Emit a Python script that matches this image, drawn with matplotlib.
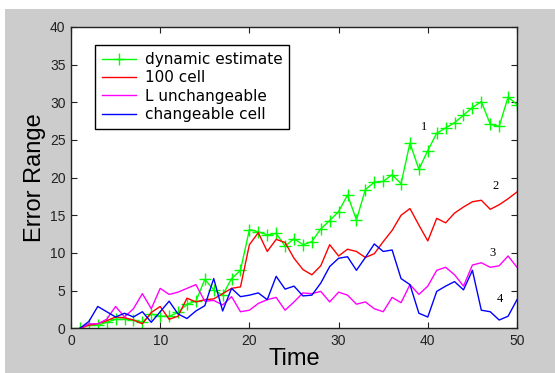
import numpy as np
import matplotlib
matplotlib.use('Agg')
import matplotlib.pyplot as plt
from matplotlib.patches import Rectangle

# time steps
time = np.arange(1, 51)

# error range for each method
dynamic = [0, 0.5, 0.4, 0.8, 1.2, 1.2, 1.1, 0.8, 1.9, 1.6,
           1.6, 2.1, 3.2, 3.6, 6.5, 5.1, 4.4, 6.6, 7.7, 13.1,
           12.8, 12.4, 12.6, 10.9, 11.9, 11.1, 11.5, 13.2, 14.3, 15.5,
           17.7, 14.4, 18.4, 19.4, 19.5, 20.4, 19.2, 24.6, 21.1, 23.6,
           25.9, 26.6, 27.3, 28.3, 29.3, 30.1, 27.1, 26.8, 30.7, 29.7]
cell100 = [0, 0.4, 0.6, 1.0, 1.5, 1.4, 1.1, 0.6, 2.1, 2.9,
           1.2, 1.6, 4.0, 3.5, 3.8, 3.9, 4.6, 5.3, 5.5, 11.1,
           12.7, 10.2, 11.8, 11.4, 9.3, 7.8, 7.1, 8.3, 11.1, 9.6,
           10.5, 10.2, 9.4, 9.9, 11.5, 13.0, 15.0, 15.9, 13.7, 11.6,
           14.6, 14.0, 15.3, 16.1, 16.8, 17.0, 15.8, 16.4, 17.2, 18.1]
unchangeable = [0, 0.6, 0.6, 1.2, 2.9, 1.5, 2.6, 4.6, 2.6, 5.3,
                4.5, 4.8, 5.3, 5.8, 3.6, 3.7, 3.1, 4.2, 2.2, 2.4,
                3.3, 3.8, 4.1, 2.4, 3.5, 4.7, 4.6, 4.9, 3.5, 4.8,
                4.4, 3.2, 3.5, 2.6, 2.2, 4.1, 3.4, 5.8, 4.5, 5.6,
                7.7, 8.1, 7.1, 5.6, 8.4, 8.7, 8.1, 8.3, 9.6, 8.1]
changeable = [0, 0.9, 2.9, 2.2, 1.5, 2.0, 1.5, 2.2, 0.8, 2.2,
              3.6, 1.9, 1.3, 2.3, 3.0, 6.6, 2.3, 5.3, 4.2, 4.4,
              4.7, 3.8, 6.9, 5.2, 5.6, 4.3, 4.4, 6.0, 8.2, 9.3,
              9.5, 7.7, 9.4, 11.2, 10.2, 10.4, 6.6, 5.8, 2.0, 1.5,
              4.9, 5.6, 6.2, 5.1, 7.7, 2.4, 2.2, 1.1, 1.6, 3.8]

labels = ['dynamic estimate', '100 cell', 'L unchangeable', 'changeable cell']

# curve numbers written next to the lines
num_text = ['1', '2', '3', '4']
num_x = [39.6, 47.6, 47.3, 48.1]
num_y = [26.7, 18.9, 10.0, 3.9]

plt.rcParams['font.family'] = ['Liberation Sans', 'DejaVu Sans']

fig = plt.figure(figsize=(5.55, 3.73), dpi=100, facecolor='white')
# grey figure background like matlab, with a thin white border top/left
fig.patches.append(Rectangle((5 / 555, 0), 1, 1 - 9 / 373, transform=fig.transFigure,
                             facecolor='#cccccc', edgecolor='none', zorder=-1))

ax = fig.add_axes([71 / 555, 1 - 328.3 / 373, 446 / 555, 301.3 / 373])
ax.set_facecolor('white')

ax.plot(time, dynamic, color='#00ff00', lw=1, marker='+', markersize=9,
        markeredgewidth=1, label=labels[0])
ax.plot(time, cell100, color='#ff0000', lw=1, label=labels[1])
ax.plot(time, unchangeable, color='#ff00ff', lw=1, label=labels[2])
ax.plot(time, changeable, color='#0000ff', lw=1, label=labels[3])

for s, x, y in zip(num_text, num_x, num_y):
    ax.text(x, y, s, family='Liberation Serif', fontsize=9, ha='center', va='center')

ax.set_xlim(0, 50)
ax.set_ylim(0, 40)
ax.set_xticks(np.arange(0, 51, 10))
ax.set_yticks(np.arange(0, 41, 5))
ax.tick_params(direction='in', top=True, right=True, length=4, width=0.8,
               labelsize=10, colors='#222222', pad=4)
for sp in ax.spines.values():
    sp.set_linewidth(1)
    sp.set_color('#222222')

ax.set_xlabel('Time', fontsize=17, labelpad=0)
ax.set_ylabel('Error Range', fontsize=17, labelpad=3)

leg = ax.legend(loc='upper left', bbox_to_anchor=(0.054, 0.94),
                prop={'family': 'DejaVu Sans', 'size': 11},
                fancybox=False, framealpha=1, edgecolor='black', borderaxespad=0,
                handlelength=2.2, handletextpad=0.6, labelspacing=0.22, borderpad=0.45)
leg.get_frame().set_linewidth(1)

fig.savefig('out.png', dpi=100, facecolor=fig.get_facecolor())
